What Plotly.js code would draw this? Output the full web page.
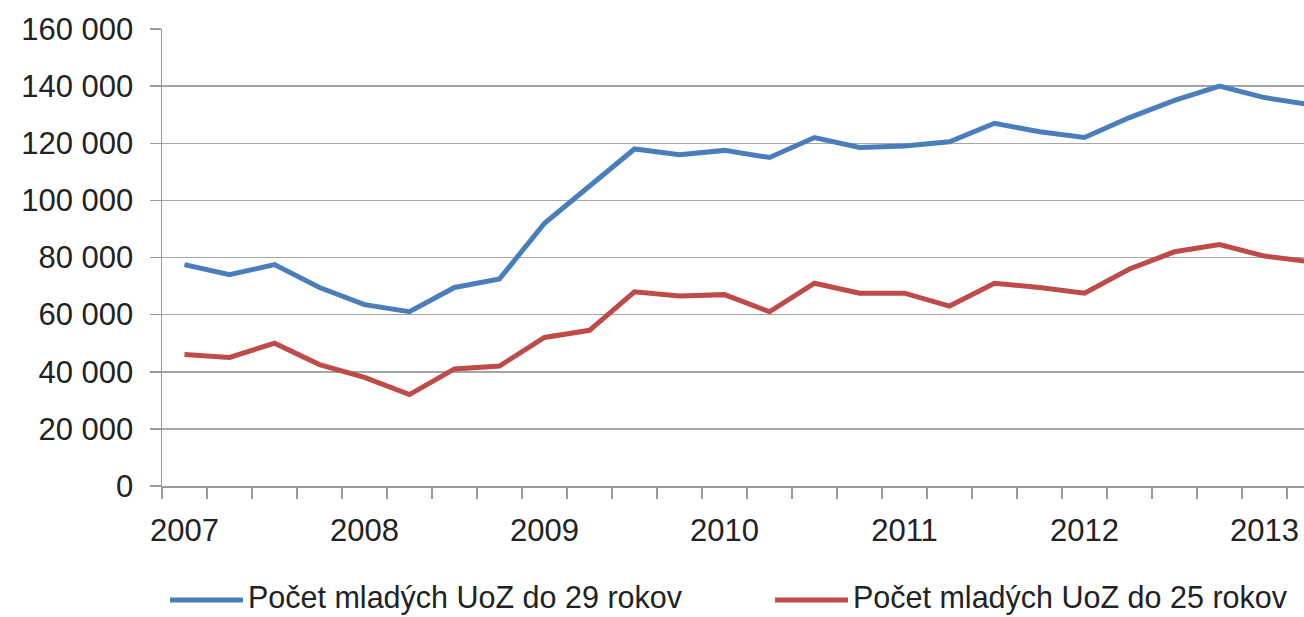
<!DOCTYPE html>
<html>
<head>
<meta charset="utf-8">
<script src="https://cdn.plot.ly/plotly-3.0.1.min.js"></script>
<style>html,body{margin:0;padding:0;background:#fff;}#chart{width:1304px;height:617px;}</style>
</head>
<body>
<div id="chart"></div>
<script>
// Quarterly observations, 2007 Q1 .. 2013 Q2 (last one partly outside the visible area)
const quarters = ['2007 Q1','2007 Q2','2007 Q3','2007 Q4','2008 Q1','2008 Q2','2008 Q3','2008 Q4',
  '2009 Q1','2009 Q2','2009 Q3','2009 Q4','2010 Q1','2010 Q2','2010 Q3','2010 Q4',
  '2011 Q1','2011 Q2','2011 Q3','2011 Q4','2012 Q1','2012 Q2','2012 Q3','2012 Q4',
  '2013 Q1','2013 Q2'];
const youth29 = [77500, 74000, 77500, 69500, 63500, 61000, 69500, 72500,
  92000, 105000, 118000, 116000, 117500, 115000, 122000, 118500,
  119000, 120500, 127000, 124000, 122000, 129000, 135000, 140000,
  136000, 133500];
const youth25 = [46000, 45000, 50000, 42500, 38000, 32000, 41000, 42000,
  52000, 54500, 68000, 66500, 67000, 61000, 71000, 67500,
  67500, 63000, 71000, 69500, 67500, 76000, 82000, 84500,
  80500, 78500];
const seriesNames = ['Počet mladých UoZ do 29 rokov', 'Počet mladých UoZ do 25 rokov'];
const yearLabels = ['2007','2008','2009','2010','2011','2012','2013'];
const yTickVals = [0, 20000, 40000, 60000, 80000, 100000, 120000, 140000, 160000];
const yTickText = ['0','20 000','40 000','60 000','80 000','100 000','120 000','140 000','160 000'];

const xIdx = quarters.map((q, i) => i);
const yearTickPos = yearLabels.map(y => quarters.indexOf(y + ' Q1'));

const BLUE = '#4a7ebb', RED = '#be4b48';
const FONT = 'Liberation Sans, Arial, sans-serif';
const TXT = '#222222';

const traces = [
  {x: xIdx, y: youth29, type: 'scatter', mode: 'lines', name: seriesNames[0],
   line: {color: BLUE, width: 5}, hoverinfo: 'x+y'},
  {x: xIdx, y: youth25, type: 'scatter', mode: 'lines', name: seriesNames[1],
   line: {color: RED, width: 5}, hoverinfo: 'x+y'}
];

// manual legend geometry (pixels converted to paper coords)
const L = 162, R = 1304, T = 28.5, B = 486;
const px = v => (v - L) / (R - L);
const py = v => (B - v) / (B - T);
const legY = 598;
const legendItems = [
  {x0: 170, x1: 243, tx: 246, color: BLUE, text: seriesNames[0]},
  {x0: 775, x1: 848, tx: 851, color: RED, text: seriesNames[1]}
];

const layout = {
  width: 1304, height: 617,
  margin: {l: L, r: 0, t: T, b: 617 - B},
  paper_bgcolor: '#ffffff', plot_bgcolor: '#ffffff',
  showlegend: false,
  font: {family: FONT, size: 31, color: TXT},
  xaxis: {
    range: [-0.5, -0.5 + (R - L) / 45],
    tickmode: 'array', tickvals: yearTickPos, ticktext: yearLabels,
    ticks: '', showgrid: false, zeroline: false,
    showline: true, linecolor: '#9a9a9a', linewidth: 1.5,
    tickfont: {family: FONT, size: 31, color: TXT},
    ticklabelstandoff: 16,
    minor: {tickmode: 'linear', tick0: -0.5, dtick: 1, ticks: 'outside', ticklen: 11,
            tickcolor: '#9a9a9a', tickwidth: 1.5, showgrid: false}
  },
  yaxis: {
    range: [0, 160000], tickmode: 'array', tickvals: yTickVals, ticktext: yTickText,
    ticks: 'outside', ticklen: 11, tickcolor: '#9a9a9a', tickwidth: 1.5,
    showgrid: true, gridcolor: '#a6a6a6', gridwidth: 1.5, zeroline: false,
    showline: true, linecolor: '#9a9a9a', linewidth: 1.5,
    tickfont: {family: FONT, size: 31, color: TXT},
    ticklabelstandoff: 10
  },
  shapes: legendItems.map(it => ({
    type: 'line', xref: 'paper', yref: 'paper',
    x0: px(it.x0), x1: px(it.x1), y0: py(legY + 2), y1: py(legY + 2),
    line: {color: it.color, width: 5}
  })),
  annotations: legendItems.map(it => ({
    xref: 'paper', yref: 'paper', x: px(it.tx), y: py(legY),
    xanchor: 'left', yanchor: 'middle', showarrow: false,
    text: it.text, font: {family: FONT, size: 30.5, color: TXT}
  }))
};

Plotly.newPlot('chart', traces, layout, {displayModeBar: false, staticPlot: true});
</script>
</body>
</html>
